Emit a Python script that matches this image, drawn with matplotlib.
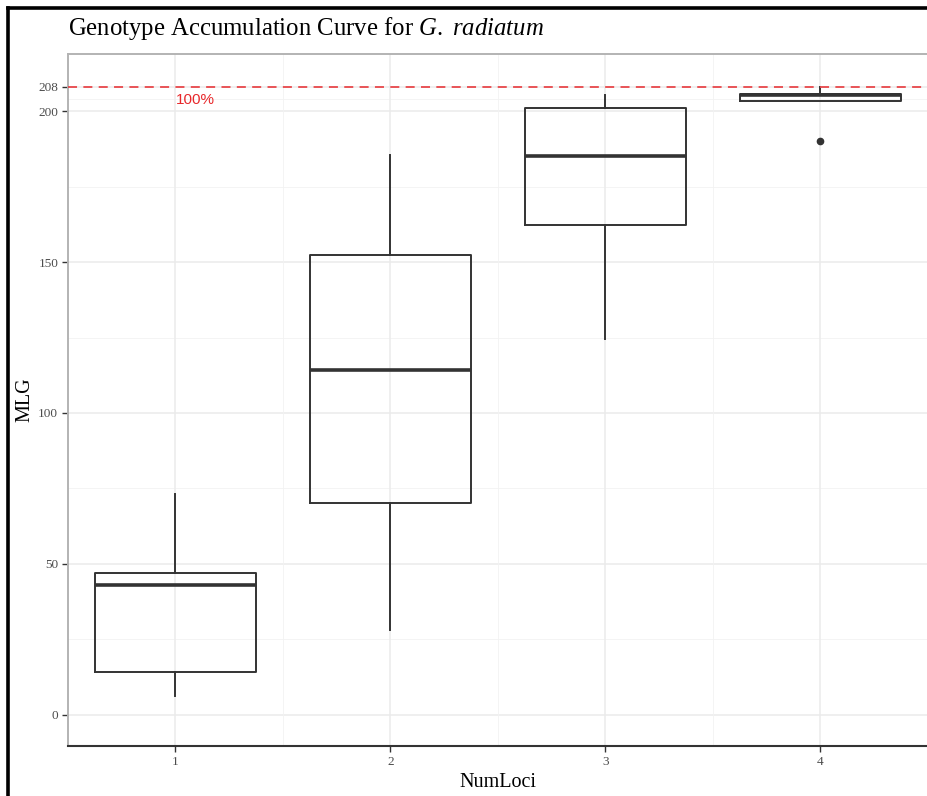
import matplotlib
matplotlib.use("Agg")
import matplotlib.pyplot as plt
from matplotlib.lines import Line2D

# Box statistics (MLG per number of loci).
num_loci = [1, 2, 3, 4]
whisker_low = [6.3, 28.1, 124.4, 203.3]
q1 = [14.1, 70.3, 162.3, 203.3]
median = [43.0, 114.2, 185.1, 205.4]
q3 = [46.9, 152.3, 201.1, 205.5]
whisker_high = [73.1, 185.4, 205.3, 208.0]
outliers = [[], [], [], [190.2]]

max_mlg = 208
y_ticks = [0, 50, 100, 150, 200, 208]
y_minor = [25, 75, 125, 175, 204]

SERIF = ["Liberation Serif", "DejaVu Serif"]

plt.rcParams["mathtext.fontset"] = "custom"
plt.rcParams["mathtext.it"] = "Liberation Serif:italic"
plt.rcParams["mathtext.rm"] = "Liberation Serif"

fig = plt.figure(figsize=(9.28, 7.96), dpi=100)
ax = fig.add_axes([68 / 928, 1 - 746 / 796, 1 - 68 / 928, (746 - 54) / 796])

stats = []
for i in range(len(num_loci)):
    stats.append({
        "whislo": whisker_low[i], "q1": q1[i], "med": median[i],
        "q3": q3[i], "whishi": whisker_high[i], "fliers": outliers[i],
    })

ax.bxp(stats, positions=num_loci, widths=0.75, showcaps=False,
       boxprops=dict(color="#333333", linewidth=1.4),
       whiskerprops=dict(color="#333333", linewidth=1.4),
       medianprops=dict(color="#333333", linewidth=2.6),
       flierprops=dict(marker="o", markerfacecolor="#333333",
                       markeredgecolor="#333333", markersize=4.5),
       zorder=3)

ax.axhline(max_mlg, color="#e8474a", linestyle=(0, (5, 3.5)), linewidth=1.3, zorder=4)
ax.text(1, 203.5, "100%", color="#e8282b", fontsize=11, ha="left", va="center",
        family=["Liberation Sans", "DejaVu Sans"], zorder=5)

ax.set_xlim(0.5, 4.5)
ax.set_ylim(-10.3, 218.9)

# grid like ggplot theme_bw
for y in y_ticks:
    ax.axhline(y, color="#ebebeb", linewidth=1.1, zorder=0)
for y in y_minor:
    ax.axhline(y, color="#f2f2f2", linewidth=0.6, zorder=0)
for x in num_loci:
    ax.axvline(x, color="#ebebeb", linewidth=1.1, zorder=0)
for x in [1.5, 2.5, 3.5]:
    ax.axvline(x, color="#f2f2f2", linewidth=0.6, zorder=0)

ax.set_yticks(y_ticks)
ax.set_yticklabels([str(t) for t in y_ticks])
ax.set_xticks(num_loci)
ax.set_xticklabels([str(n) for n in num_loci])
ax.tick_params(axis="both", length=4, width=1, color="#333333",
               labelcolor="#4d4d4d", labelsize=9.5, pad=3)
for lab in ax.get_xticklabels() + ax.get_yticklabels():
    lab.set_family(SERIF)

ax.spines["left"].set_color("#b3b3b3")
ax.spines["top"].set_color("#b3b3b3")
ax.spines["left"].set_linewidth(1.4)
ax.spines["top"].set_linewidth(1.4)
ax.spines["bottom"].set_color("#333333")
ax.spines["bottom"].set_linewidth(1.5)
ax.spines["right"].set_visible(False)

ax.set_xlabel("NumLoci", family=SERIF, fontsize=14.5, color="black", labelpad=4)
ax.set_ylabel("MLG", family=SERIF, fontsize=14.5, color="black", labelpad=3)

fig.text(68 / 928, 1 - 29 / 796, "Genotype Accumulation Curve for $\\it{G.}$ $\\it{radiatum}$",
         family=SERIF, fontsize=17.8, ha="left", va="center")

# black frame of the screenshot on the left and top
fig.add_artist(Line2D([8 / 928, 8 / 928], [0, 1 - 8 / 796], color="black",
                      linewidth=2.6, transform=fig.transFigure))
fig.add_artist(Line2D([8 / 928, 1], [1 - 8 / 796, 1 - 8 / 796], color="black",
                      linewidth=2.6, transform=fig.transFigure))

fig.savefig("out.png", dpi=100)
